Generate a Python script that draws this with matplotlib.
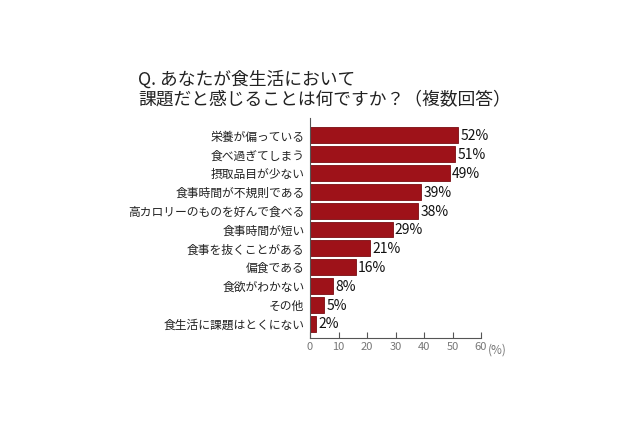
import matplotlib
matplotlib.use("Agg")
import matplotlib.pyplot as plt

plt.rcParams['font.family'] = ['Noto Sans CJK JP', 'DejaVu Sans']

# データ（上から順）
labels = ["栄養が偏っている", "食べ過ぎてしまう", "摂取品目が少ない", "食事時間が不規則である",
          "高カロリーのものを好んで食べる", "食事時間が短い", "食事を抜くことがある",
          "偏食である", "食欲がわかない", "その他", "食生活に課題はとくにない"]
values = [52, 51, 49, 39, 38, 29, 21, 16, 8, 5, 2]
xticks = [0, 10, 20, 30, 40, 50, 60]
title = "Q. あなたが食生活において\n課題だと感じることは何ですか？（複数回答）"

fig = plt.figure(figsize=(6.4, 4.26), dpi=100)
ax = fig.add_axes([310/640, 1-338/426, 171/640, 220/426])

pos = list(range(len(values)))
ax.barh(pos, values, height=0.85, color="#9e1219", edgecolor="#7a0c12", linewidth=0.6)

for p, v in zip(pos, values):
	ax.text(v + 0.8, p + 0.05, f"{v}%", va="center", ha="left", fontsize=10, color="#111111")

ax.set_yticks(pos)
ax.set_yticklabels(labels, fontsize=8.5, color="#222222")
ax.set_ylim(10.77, -0.93)
ax.set_xlim(0, 60)
ax.set_xticks(xticks)
ax.set_xticklabels([str(t) for t in xticks], fontsize=8, color="#777777")
ax.tick_params(axis="y", length=0, pad=4)
ax.tick_params(axis="x", direction="in", length=4, color="#555555", pad=3)

for s in ["top", "right"]:
	ax.spines[s].set_visible(False)
ax.spines["left"].set_color("#555555")
ax.spines["bottom"].set_color("#555555")

# 単位
ax.annotate("(%)", xy=(60, 0), xycoords=("data", "axes fraction"), xytext=(5, -4),
	textcoords="offset points", fontsize=8.5, color="#777777", ha="left", va="top")

fig.text(138/640, 1-70/426, title, fontsize=12.8, color="#222222", ha="left", va="top",
	linespacing=1.2)

fig.savefig("out.png", dpi=100)
